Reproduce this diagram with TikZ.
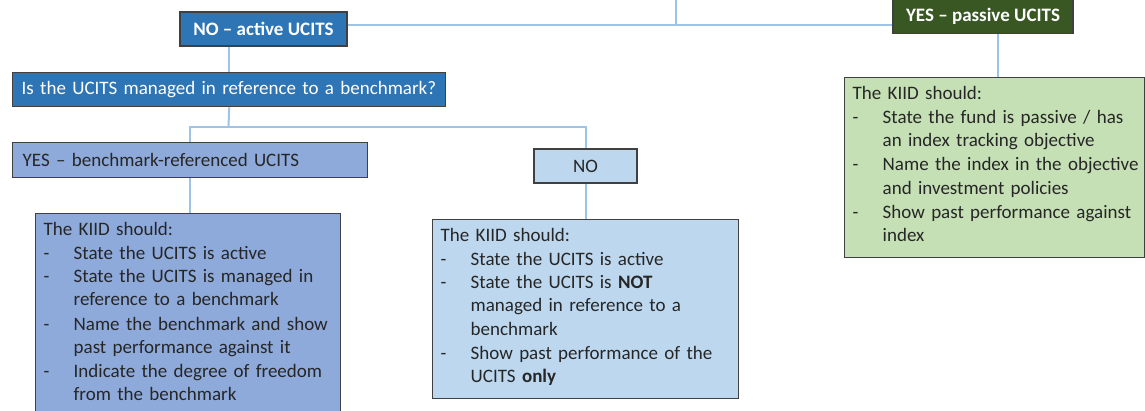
\documentclass[tikz,border=0pt]{standalone}
\usepackage{fontspec}
\setmainfont{Carlito}

\definecolor{darkblue}{HTML}{2E75B6}
\definecolor{midblue}{HTML}{8EAADB}
\definecolor{paleblue}{HTML}{BDD7EE}
\definecolor{darkgreen}{HTML}{385723}
\definecolor{palegreen}{HTML}{C5E0B4}
\definecolor{linkblue}{HTML}{9DC3E6}

\newcommand{\kiiditem}[1]{\par\noindent\makebox[30pt][l]{-}\begin{tabular}[t]{@{}l@{}}#1\end{tabular}}

\begin{document}
\begin{tikzpicture}[x=1pt,y=1pt,
  box/.style={draw=black!75, line width=1.4pt, inner sep=0pt, minimum height=34pt,
    text=black!85, font=\fontsize{19}{23.3}\selectfont},
  darkbox/.style={box, fill=darkblue, text=white},
  kiid/.style={draw=black!75, line width=1.4pt, inner xsep=8pt, inner ysep=9pt,
    anchor=north west, align=left, text=black!85, font=\fontsize{19}{23.3}\selectfont},
  link/.style={draw=linkblue, line width=2pt}]

  \useasboundingbox (0,0) rectangle (1145,-411);

  % Answers at the top
  \node[darkbox, minimum width=167pt, font=\fontsize{19}{23.3}\selectfont\bfseries] (noactive) at (263.5,-29) {NO -- active UCITS};
  \node[darkbox, fill=darkgreen, minimum width=180pt, font=\fontsize{19}{23.3}\selectfont\bfseries] (yespassive) at (983,-16.5) {YES -- passive UCITS};

  % Question
  \node[darkbox, anchor=north west, text width=415pt, inner xsep=9pt, align=left] (question) at (12,-72) {Is the UCITS managed in reference to a benchmark?};

  % Second answers
  \node[box, fill=midblue, anchor=north west, text width=335pt, inner xsep=10pt, minimum height=35pt, align=left] (yesbench) at (12,-142) {YES -- benchmark-referenced UCITS};
  \node[box, fill=paleblue, minimum width=103pt] (nobench) at (585.5,-166) {NO};

  % KIID boxes
  \node[kiid, fill=midblue, text width=289pt] (kiidbench) at (35,-213) {The KIID should:
    \kiiditem{State the UCITS is active}
    \kiiditem{State the UCITS is managed in\\reference to a benchmark}
    \kiiditem{Name the benchmark and show\\past performance against it}
    \kiiditem{Indicate the degree of freedom\\from the benchmark}};
  \node[kiid, fill=paleblue, text width=290pt] (kiidnobench) at (432,-219) {The KIID should:
    \kiiditem{State the UCITS is active}
    \kiiditem{State the UCITS is \textbf{NOT}\\managed in reference to a\\benchmark}
    \kiiditem{Show past performance of the\\UCITS \textbf{only}}};
  \node[kiid, fill=palegreen, text width=284pt] (kiidpassive) at (844,-77) {The KIID should:
    \kiiditem{State the fund is passive / has\\an index tracking objective}
    \kiiditem{Name the index in the objective\\and investment policies}
    \kiiditem{Show past performance against\\index}};

  % Connectors
  \coordinate (top) at (676,0);
  \coordinate (join) at (676,-25);
  \coordinate (split) at (228.5,-127.5);
  \draw[link] (top) -- (join);
  \draw[link] (noactive.east |- join) -- (yespassive.west |- join);
  \draw[link] (noactive.south -| question.north) -- (question.north);
  \draw[link] (question.south) -- (split);
  \draw[link] (yesbench.north) |- (split) -| (nobench.north);
  \draw[link] (yesbench.south) -- (yesbench.south |- kiidbench.north);
  \draw[link] (nobench.south) -- (nobench.south |- kiidnobench.north);
  \draw[link] ([xshift=15pt]yespassive.south) -- ([xshift=15pt]yespassive.south |- kiidpassive.north);

\end{tikzpicture}
\end{document}
